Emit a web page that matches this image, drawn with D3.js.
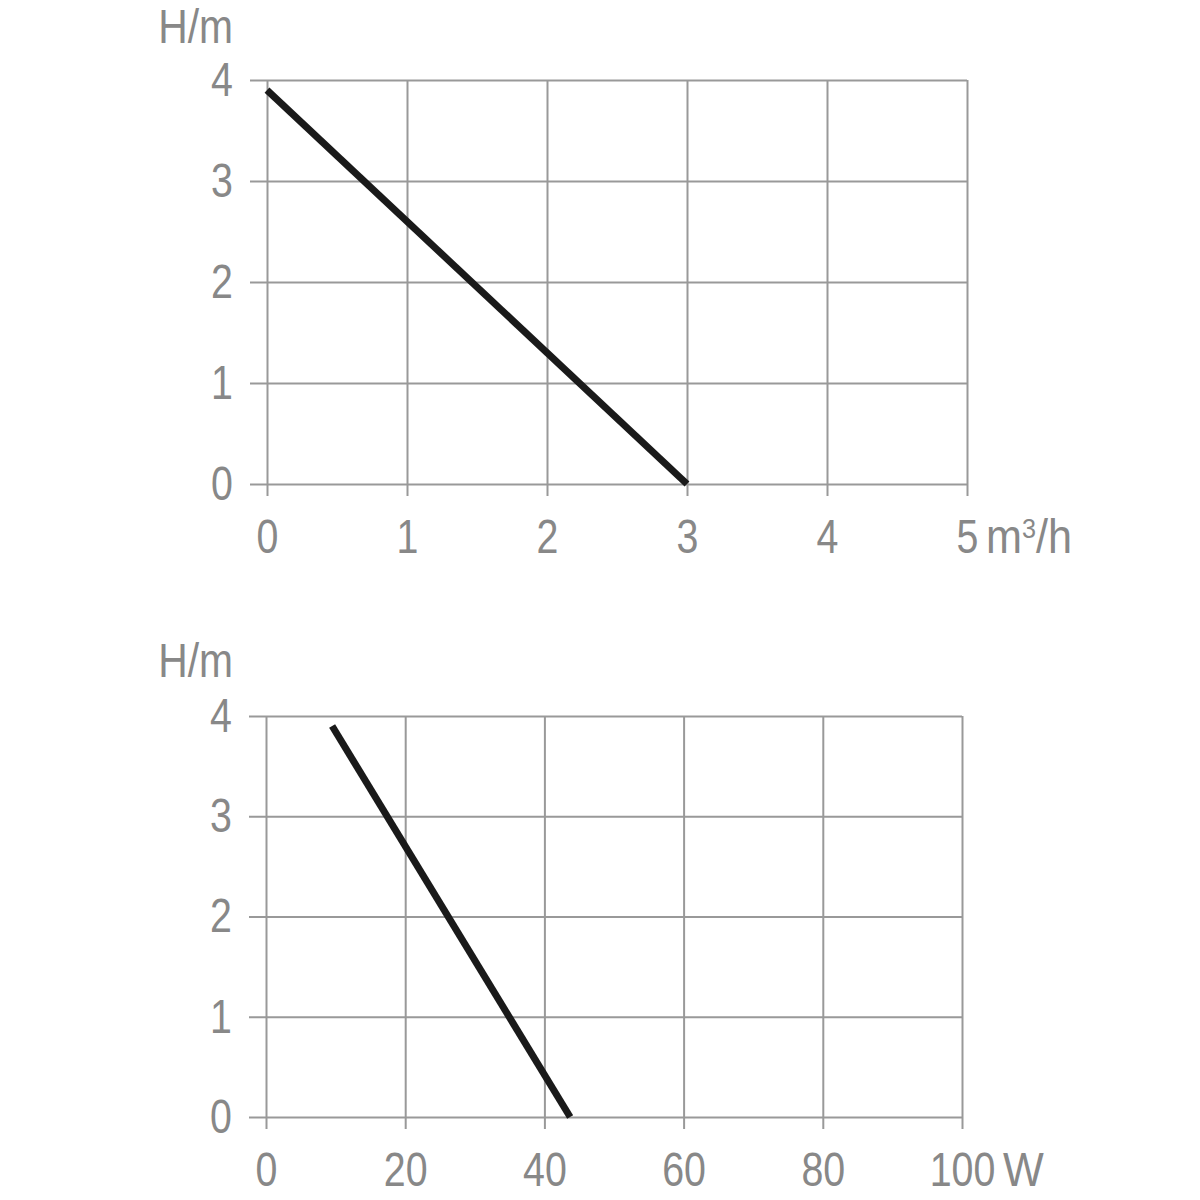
<!DOCTYPE html>
<html>
<head>
<meta charset="utf-8">
<script src="https://cdn.jsdelivr.net/npm/d3@7"></script>
<style>
  body { margin: 0; background: #fff; }
  svg text { font-family: "Liberation Sans", Arial, sans-serif; fill: #888; }
</style>
</head>
<body>
<svg width="1200" height="1200"></svg>
<script>
// DATA
var flowTicks = [0, 1, 2, 3, 4, 5];
var powerTicks = [0, 20, 40, 60, 80, 100];
var headTicks = [0, 1, 2, 3, 4];

var flowValues = [0, 3];        // m3/h
var flowHead = [3.9, 0];        // H/m
var powerValues = [9.5, 43.7];  // W
var powerHead = [3.9, 0];       // H/m

var FONT = '"Liberation Sans", Arial, sans-serif';

var svg = d3.select('svg');

// squeeze text horizontally around its own anchor
function condense(sel, sx) {
  sel.each(function() {
    var t = d3.select(this);
    var x = +t.attr('x') || 0;
    t.attr('x', 0).attr('transform', 'translate(' + x + ',0) scale(' + (sx || 0.82) + ',1)');
  });
}

function drawChart(opts) {
  var x = d3.scaleLinear().domain([opts.xTicks[0], opts.xTicks[opts.xTicks.length - 1]]).range([opts.left, opts.right]);
  var y = d3.scaleLinear().domain([0, 4]).range([opts.bottom, opts.top]);
  var g = svg.append('g');

  // vertical grid + x labels
  var xa = g.append('g')
    .attr('transform', 'translate(0,' + opts.top + ')')
    .call(d3.axisBottom(x).tickValues(opts.xTicks).tickSize(opts.bottom - opts.top + 12).tickPadding(23)
      .tickFormat(d3.format('d')));
  // horizontal grid + y labels
  var ya = g.append('g')
    .attr('transform', 'translate(' + opts.right + ',0)')
    .call(d3.axisLeft(y).tickValues(headTicks).tickSize(opts.right - opts.left + 17).tickPadding(17)
      .tickFormat(d3.format('d')));

  [xa, ya].forEach(function(a) {
    a.select('.domain').remove();
    a.selectAll('line').attr('stroke', '#999').attr('stroke-width', 2);
    a.selectAll('text').attr('font-size', 48).attr('fill', '#888').style('font-family', FONT)
      .call(condense);
  });

  // unit after last x tick
  g.append('text')
    .attr('x', x(opts.xTicks[opts.xTicks.length - 1]) + opts.unitOffset)
    .attr('y', opts.bottom + 12 + 23)
    .attr('dy', '0.71em')
    .attr('font-size', 48)
    .html(opts.unit)
    .call(condense, 0.9);

  // y unit
  g.append('text')
    .attr('x', 233)
    .attr('y', Math.max(opts.top - 39, 43))
    .attr('text-anchor', 'end')
    .attr('font-size', 48)
    .text('H/m')
    .call(condense, 0.85);

  var pts = opts.xs.map(function(v, i) { return [v, opts.ys[i]]; });
  g.append('path')
    .datum(pts)
    .attr('fill', 'none')
    .attr('stroke', '#1a1a1a')
    .attr('stroke-width', 7)
    .attr('d', d3.line().x(function(d) { return x(d[0]); }).y(function(d) { return y(d[1]); }));
}

drawChart({
  xTicks: flowTicks, left: 267, right: 967, top: 80, bottom: 484,
  xs: flowValues, ys: flowHead,
  unit: 'm<tspan dy="-15" font-size="28">3</tspan><tspan dy="15">/h</tspan>', unitOffset: 19
});

drawChart({
  xTicks: powerTicks, left: 266, right: 962, top: 716, bottom: 1117,
  xs: powerValues, ys: powerHead,
  unit: 'W', unitOffset: 41
});
</script>
</body>
</html>
